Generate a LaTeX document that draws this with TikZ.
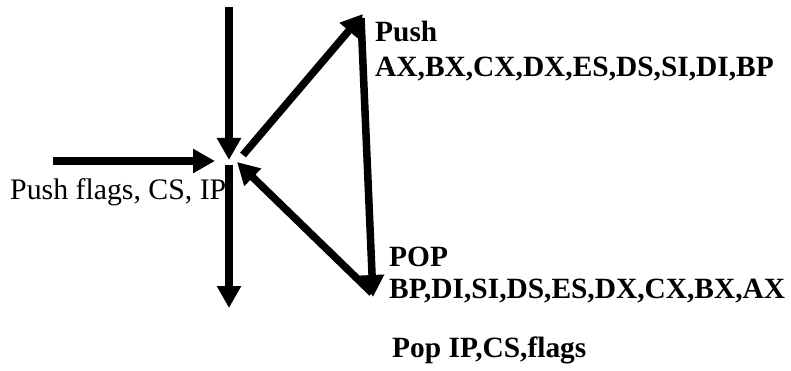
\documentclass[tikz,border=0pt]{standalone}
\usepackage{fontspec}
\setmainfont{Liberation Serif}
\usetikzlibrary{arrows.meta}
\begin{document}
\begin{tikzpicture}[x=1pt,y=-1pt,
  arr/.style={line width=7.5pt, -{Triangle[length=22pt,width=23pt]}},
  lbl/.style={anchor=base west, inner sep=0pt, font=\fontsize{29.8}{34}\selectfont},
  blbl/.style={lbl, font=\fontsize{29.4}{34}\selectfont\bfseries}]
\useasboundingbox (0,0) rectangle (791,371);
% coordinates
\coordinate (vtop) at (229,7);
\coordinate (vtip) at (229,160);
\coordinate (hstart) at (53,161);
\coordinate (htip) at (215,161);
\coordinate (vlow) at (229,165);
\coordinate (vend) at (229,308);
\coordinate (d1s) at (243,155);
\coordinate (d1t) at (363,14);
\coordinate (rs) at (361,18);
\coordinate (rt) at (373,297);
\coordinate (d2s) at (372,293);
\coordinate (d2t) at (237,162);
% connectors
\draw[arr] (vtop) -- (vtip);
\draw[arr] (hstart) -- (htip);
\draw[arr] (vlow) -- (vend);
\draw[arr] (d1s) -- (d1t);
\draw[arr] (rs) -- (rt);
\draw[arr] (d2s) -- (d2t);
% labels
\node[blbl] (push) at (375,42) {Push};
\node[blbl] (pushregs) at (375,77) {AX,BX,CX,DX,ES,DS,SI,DI,BP};
\node[blbl] (pop) at (389,266) {POP};
\node[blbl] (popregs) at (389,298) {BP,DI,SI,DS,ES,DX,CX,BX,AX};
\node[lbl] (pushflags) at (10,200) {Push flags, CS, IP};
\node[blbl] (popip) at (392,357) {Pop IP,CS,flags};
\end{tikzpicture}
\end{document}
